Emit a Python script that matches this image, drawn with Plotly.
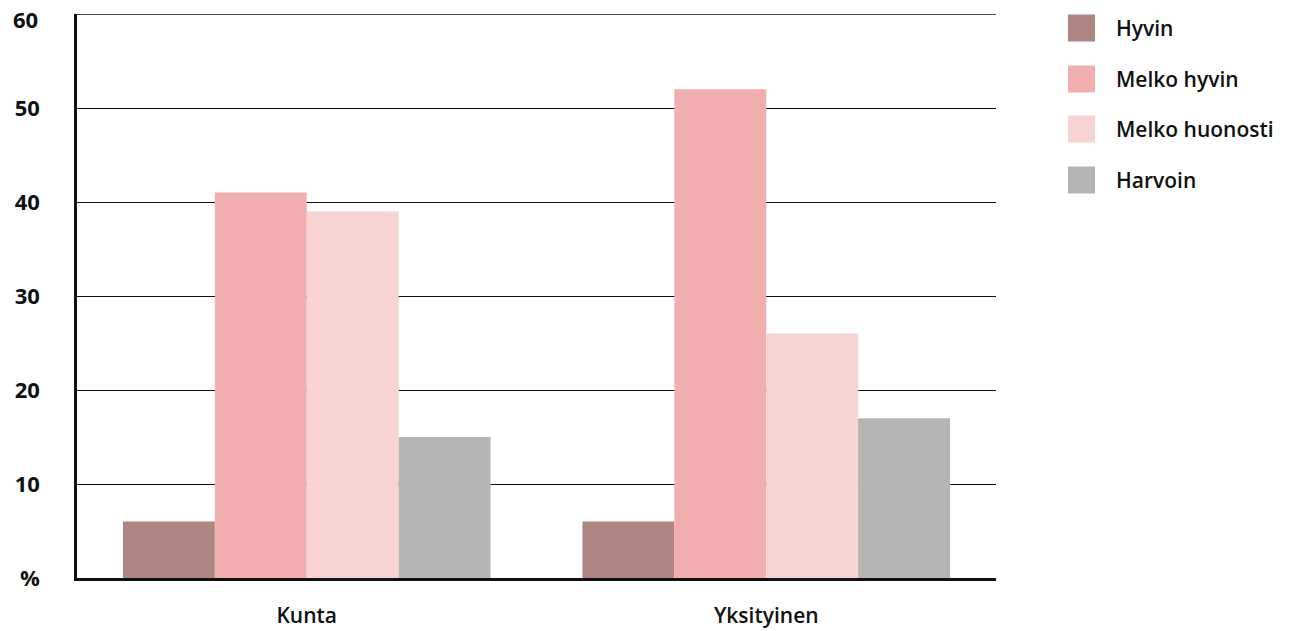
import plotly.graph_objects as go

# Survey responses (%) by provider type
categories = ["Kunta", "Yksityinen"]
series_names = ["Hyvin", "Melko hyvin", "Melko huonosti", "Harvoin"]
hyvin = [6, 6]
melko_hyvin = [41, 52]
melko_huonosti = [39, 26]
harvoin = [15, 17]
series_values = [hyvin, melko_hyvin, melko_huonosti, harvoin]
series_colors = ["#AD8583", "#F1AEAE", "#F8D3D3", "#B4B4B4"]

y_ticks = [0, 10, 20, 30, 40, 50, 60]
y_tick_labels = ["%", "10", "20", "30", "40", "50", "60"]

FONT = "Open Sans"
W, H = 1292, 631
L, R, T, B = 77, 296, 14, 53
PW, PH = W - L - R, H - T - B
YFONT = dict(family=FONT, size=22, color="#111111", weight=700)

fig = go.Figure()
for name, vals, col in zip(series_names, series_values, series_colors):
    fig.add_trace(go.Bar(x=categories, y=vals, name=name,
                         marker=dict(color=col, line=dict(width=0)),
                         showlegend=False))

# Top border line at the axis maximum
fig.add_shape(type="line", xref="paper", yref="y", x0=0, x1=1,
              y0=y_ticks[-1], y1=y_ticks[-1],
              line=dict(color="#111111", width=1.5), layer="below")

# Label for the top tick, nudged down so it stays inside the page
fig.add_annotation(xref="paper", yref="y", x=(40 - L) / PW, y=y_ticks[-1],
                   text=y_tick_labels[-1], showarrow=False,
                   xanchor="right", yanchor="middle", yshift=-5, font=YFONT)

# Custom legend: large square swatches with labels
row_y = [28, 79, 129, 180]
for name, col, yc in zip(series_names, series_colors, row_y):
    fig.add_shape(type="rect", xref="paper", yref="paper",
                  x0=(1068 - L) / PW, x1=(1095 - L) / PW,
                  y0=(H - B - (yc + 13.5)) / PH, y1=(H - B - (yc - 13.5)) / PH,
                  fillcolor=col, line=dict(width=0), layer="above")
    fig.add_annotation(xref="paper", yref="paper",
                       x=(1114 - L) / PW, y=(H - B - yc) / PH,
                       text=name, showarrow=False, xanchor="left", yanchor="middle",
                       font=dict(family=FONT, size=21, color="#111111", weight=600))

fig.update_layout(
    width=W, height=H,
    margin=dict(l=L, r=R, t=T, b=B, autoexpand=False),
    paper_bgcolor="white", plot_bgcolor="white",
    barmode="group", bargap=0.2, bargroupgap=0,
    font=dict(family=FONT, color="#111111"),
)
fig.update_xaxes(
    automargin=True,
    showline=True, linecolor="#111111", linewidth=2.5,
    showgrid=False, ticks="", ticklabelstandoff=17,
    tickfont=dict(family=FONT, size=21, color="#111111", weight=600),
)
fig.update_yaxes(
    automargin=True,
    range=[0, 60], tickmode="array", tickvals=y_ticks, ticktext=y_tick_labels,
    showline=True, linecolor="#111111", linewidth=2.5,
    showgrid=True, gridcolor="#111111", gridwidth=1,
    zeroline=False, ticks="", ticklabelstandoff=30,
    tickfont=YFONT,
)

fig.write_html("out.html")
